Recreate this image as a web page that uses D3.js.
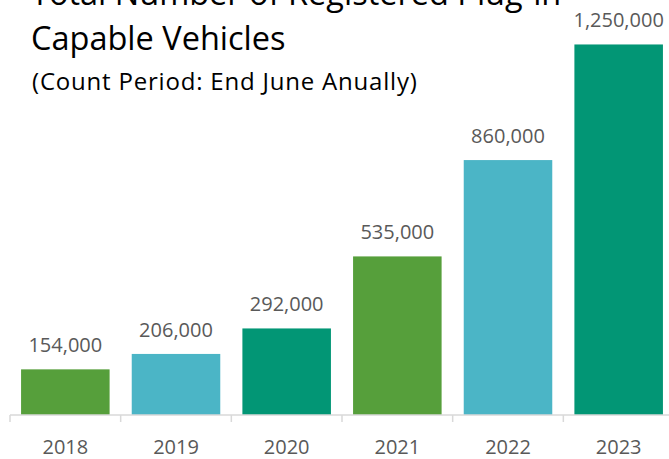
<!DOCTYPE html>
<html>
<head>
<meta charset="utf-8">
<script src="https://cdn.jsdelivr.net/npm/d3@7"></script>
<style>
  body { margin: 0; background: #fff; }
  svg { display: block; font-family: "Open Sans", sans-serif; }
</style>
</head>
<body>
<svg></svg>
<script>
const WIDTH = 669;
const HEIGHT = 459;

const years = ["2018", "2019", "2020", "2021", "2022", "2023"];
const vehicles = [154000, 206000, 292000, 535000, 860000, 1250000];
const barColors = ["#569f3b", "#4bb5c6", "#029675", "#569f3b", "#4bb5c6", "#029675"];

const titleLines = ["Total Number of Registered Plug-in", "Capable Vehicles"];
const subtitle = "(Count Period: End June Anually)";

const AXIS_Y = 415;
const fmt = d3.format(",");

let $svg = d3.select("svg").attr("width", WIDTH).attr("height", HEIGHT);

let x = d3.scaleBand()
  .domain(years)
  .range([10, 674])
  .paddingInner(0.2)
  .paddingOuter(0.1);

let y = d3.scaleLinear()
  .domain([0, 1400000])
  .range([AXIS_Y, 0]);

let data = years.map((yr, i) => ({ year: yr, value: vehicles[i], color: barColors[i] }));

// bars
$svg.selectAll("rect.bar")
  .data(data)
  .enter()
  .append("rect")
  .attr("class", "bar")
  .attr("x", d => x(d.year))
  .attr("y", d => y(d.value))
  .attr("width", x.bandwidth())
  .attr("height", d => y(0) - y(d.value))
  .attr("fill", d => d.color);

// value labels
$svg.selectAll("text.val")
  .data(data)
  .enter()
  .append("text")
  .attr("class", "val")
  .attr("x", d => x(d.year) + x.bandwidth() / 2)
  .attr("y", d => y(d.value) - 17)
  .attr("text-anchor", "middle")
  .attr("font-size", 20)
  .attr("fill", "#595959")
  .text(d => fmt(d.value));

// category axis
let axis = d3.axisBottom(x).tickSize(0).tickPadding(25);
let $axis = $svg.append("g")
  .attr("transform", `translate(0,${AXIS_Y})`)
  .call(axis);
$axis.select(".domain").remove();
$axis.selectAll("text")
  .attr("font-size", 20)
  .attr("font-family", "Open Sans, sans-serif")
  .attr("fill", "#595959");

$axis.append("line")
  .attr("x1", x.range()[0])
  .attr("x2", WIDTH)
  .attr("stroke", "#d9d9d9")
  .attr("stroke-width", 1.5);

// boundary ticks between categories
let step = x.step();
let boundaries = years.map(yr => x(yr) - step * x.paddingOuter());
$axis.selectAll("line.bound")
  .data(boundaries)
  .enter()
  .append("line")
  .attr("class", "bound")
  .attr("x1", d => d)
  .attr("x2", d => d)
  .attr("y1", 0)
  .attr("y2", 7)
  .attr("stroke", "#d9d9d9")
  .attr("stroke-width", 1.5);

// title
$svg.selectAll("text.title")
  .data(titleLines)
  .enter()
  .append("text")
  .attr("class", "title")
  .attr("x", 31)
  .attr("y", (d, i) => 5 + i * 45)
  .attr("font-size", 32.5)
  .attr("fill", "#000")
  .text(d => d);

$svg.append("text")
  .attr("x", 32)
  .attr("y", 90)
  .attr("font-size", 24)
  .attr("letter-spacing", 0.8)
  .attr("fill", "#000")
  .text(subtitle);
</script>
</body>
</html>
